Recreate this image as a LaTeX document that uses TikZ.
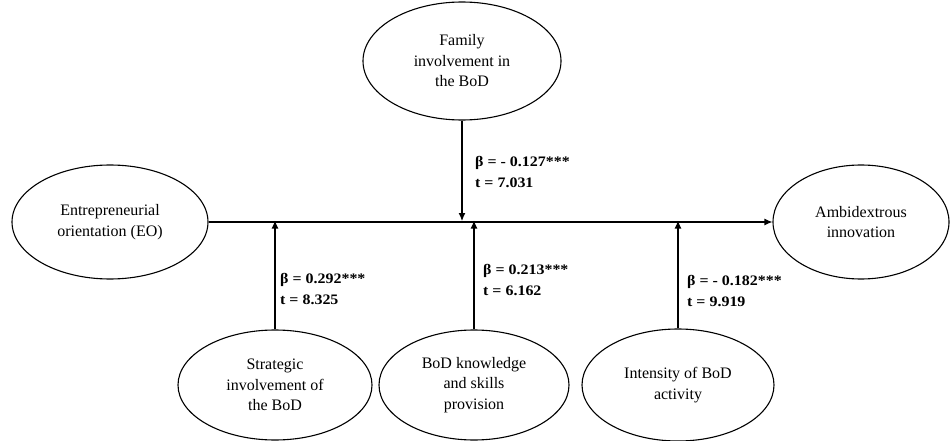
\documentclass[tikz,border=0pt]{standalone}
\usepackage{fontspec}
\setmainfont{Liberation Serif}
\newfontfamily\coeffont{Liberation Serif}[FakeStretch=1.1]
\usetikzlibrary{shapes.geometric,arrows.meta}

\begin{document}
\begin{tikzpicture}[x=1pt,y=-1pt,
  construct/.style={ellipse, draw, line width=1.1pt, inner sep=0pt, align=center,
    font=\fontsize{16}{20.5}\selectfont},
  link/.style={line width=1.1pt, -{Latex[length=8pt,width=7pt]}},
  coef/.style={anchor=base west, align=left, inner sep=0pt,
    font=\fontsize{14.5}{21}\coeffont\bfseries}
]
\useasboundingbox (0,0) rectangle (951,441);

% constructs
\node[construct, minimum width=198pt, minimum height=118pt] (F) at (462,61)
  {Family\\involvement in\\the BoD};
\node[construct, minimum width=196pt, minimum height=114pt] (EO) at (110,222)
  {Entrepreneurial\\orientation (EO)};
\node[construct, minimum width=176pt, minimum height=114pt] (AI) at (861,222)
  {Ambidextrous\\innovation};
\node[construct, minimum width=194pt, minimum height=110pt] (S) at (275,385)
  {Strategic\\involvement of\\the BoD};
\node[construct, minimum width=190pt, minimum height=110pt] (K) at (474,385)
  {BoD knowledge\\and skills\\provision};
\node[construct, minimum width=192pt, minimum height=112pt] (I) at (678,385)
  {Intensity of BoD\\activity};

% direct effect and moderating paths
\draw[link] (EO) -- (AI);
\draw[link, shorten >=1pt] (F.south) -- (F.south |- EO.east);
\draw[link, shorten >=-1.5pt] (S.north) -- (S.north |- EO.east);
\draw[link, shorten >=-1.5pt] (K.north) -- (K.north |- EO.east);
\draw[link, shorten >=-1.5pt] (I.north) -- (I.north |- EO.east);

% path coefficients (anchored at the baseline of the t line)
\node[coef] (cF) at (475,188) {β = - 0.127***\\t = 7.031};
\node[coef] (cS) at (280,304) {β = 0.292***\\t = 8.325};
\node[coef] (cK) at (483,295) {β = 0.213***\\t = 6.162};
\node[coef] (cI) at (687,306) {β = - 0.182***\\t = 9.919};
\end{tikzpicture}
\end{document}
